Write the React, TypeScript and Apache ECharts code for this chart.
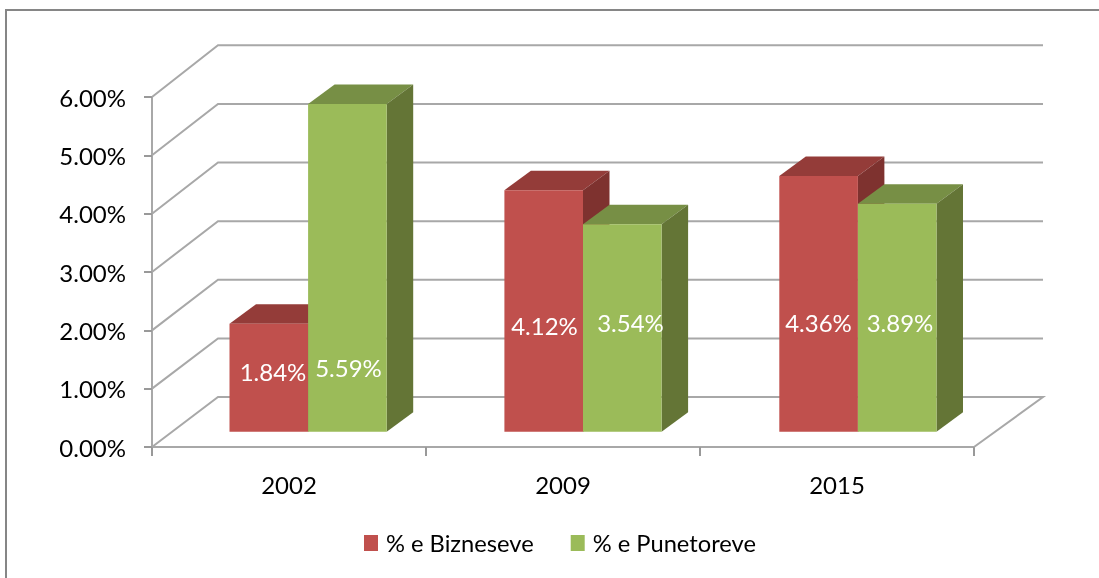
import React, { useEffect, useRef } from "react";
import * as echarts from "echarts";

const years = ["2002", "2009", "2015"];
const bizneseve = [1.84, 4.12, 4.36];
const punetoreve = [5.59, 3.54, 3.89];
const gridLevels = [0, 1, 2, 3, 4, 5, 6];
const seriesNames = ["% e Bizneseve", "% e Punetoreve"];

const FONT = "Lato";
const FONT_SIZE = 24;
const W = 1099;
const H = 578;
const GRID_LEFT = 152;
const GRID_RIGHT = 125;
const GRID_TOP = 97;
const GRID_H = 350;
const WALL_DX = 66;
const WALL_DY = 50;
const WALL_STRETCH = 1.005;
const LINE = "#A8A8A8";

const BAR_W = 78.6;
const BAR_LIFT = 15.3;
const BAR_DX = 26.5;
const BAR_DY = 19.5;

const labelCentersRed = [[273, 371], [544.5, 325], [818.5, 322]];
const labelCentersGreen = [[348.5, 367], [630.5, 322], [900, 322]];

function wallItem(params: any, api: any) {
  const v = api.value(0);
  const sys = params.coordSys;
  const x0 = sys.x;
  const xRight = sys.x + sys.width;
  const y0 = sys.y + sys.height;
  const [, yv] = api.coord([0, v]);
  const backX = x0 + WALL_DX;
  const backRight = xRight + 69;
  const backY = y0 - WALL_DY - (y0 - yv) * WALL_STRETCH;
  const style = { stroke: LINE, lineWidth: 2, fill: "none" };
  const pts = [[x0, yv], [backX, backY], [backRight, backY]];
  if (v === 0) pts.push([xRight, y0]);
  return { type: "polyline", shape: { points: pts }, style };
}

function barItem(side: number, colors: string[], labelPos: number[][]) {
  return (_params: any, api: any) => {
    const idx = api.value(0);
    const v = api.value(1);
    const [cx, y0] = api.coord([idx, 0]);
    const [, yv] = api.coord([idx, v]);
    const mid = cx + 20 + (idx - 1) * 0.9;
    const x1 = side === 0 ? mid - BAR_W : mid;
    const x2 = x1 + BAR_W;
    const yb = y0 - BAR_LIFT;
    const yt = yb - (y0 - yv) * WALL_STRETCH;
    return {
      type: "group",
      children: [
        { type: "polygon", shape: { points: [[x1, yt], [x1 + BAR_DX, yt - BAR_DY], [x2 + BAR_DX, yt - BAR_DY], [x2, yt]] }, style: { fill: colors[1] } },
        { type: "polygon", shape: { points: [[x2, yt], [x2 + BAR_DX, yt - BAR_DY], [x2 + BAR_DX, yb - BAR_DY], [x2, yb]] }, style: { fill: colors[2] } },
        { type: "rect", shape: { x: x1, y: yt, width: BAR_W, height: yb - yt }, style: { fill: colors[0] } },
        {
          type: "text",
          style: {
            x: labelPos[idx][0],
            y: labelPos[idx][1],
            text: v.toFixed(2) + "%",
            fill: "#FFFFFF",
            font: `${FONT_SIZE}px ${FONT}`,
            align: "center",
            verticalAlign: "middle",
          },
        },
      ],
    };
  };
}

export default function App() {
  const ref = useRef<HTMLDivElement>(null);
  useEffect(() => {
    const chart = echarts.init(ref.current!, undefined, { renderer: "svg" });
    chart.setOption({
      animation: false,
      backgroundColor: "#FFFFFF",
      textStyle: { fontFamily: FONT },
      grid: { left: GRID_LEFT, right: GRID_RIGHT, top: GRID_TOP, height: GRID_H },
      legend: {
        left: 359,
        top: 526,
        itemWidth: 14,
        itemHeight: 16,
        itemGap: 37,
        data: seriesNames.map((name, i) => ({ name, icon: "rect", itemStyle: { color: i ? "#9BBB59" : "#C0504D" } })),
        textStyle: { fontFamily: FONT, fontSize: 23.7, color: "#000000", padding: [0, 0, 0, 3] },
      },
      graphic: [
        { type: "rect", shape: { x: 6, y: 10, width: 1200, height: 700 }, style: { fill: "none", stroke: "#868686", lineWidth: 2 }, z: 0 },
      ],
      xAxis: {
        type: "category",
        data: years,
        axisLine: { lineStyle: { color: LINE, width: 2 } },
        axisTick: { show: true, length: 9, lineStyle: { color: "#999999", width: 2 } },
        axisLabel: { color: "#000000", fontSize: FONT_SIZE, fontFamily: FONT, margin: 25 },
        splitLine: { show: false },
      },
      yAxis: {
        type: "value",
        min: 0,
        max: 6,
        interval: 1,
        axisLine: { show: true, lineStyle: { color: LINE, width: 2 } },
        axisTick: { show: true, length: 8, lineStyle: { color: "#999999", width: 2 } },
        axisLabel: { color: "#000000", fontSize: FONT_SIZE, fontFamily: FONT, margin: 26, formatter: (v: number) => v.toFixed(2) + "%" },
        splitLine: { show: false },
      },
      series: [
        {
          type: "custom",
          name: "walls",
          coordinateSystem: "cartesian2d",
          encode: { y: 0 },
          data: gridLevels.map((v) => [v]),
          renderItem: wallItem,
          silent: true,
          z: 1,
        },
        {
          type: "custom",
          name: seriesNames[0],
          encode: { x: 0, y: 1 },
          itemStyle: { color: "#C0504D" },
          data: bizneseve.map((v, i) => [i, v]),
          renderItem: barItem(0, ["#C0504D", "#943C39", "#7E322F"], labelCentersRed),
          z: 2,
        },
        {
          type: "custom",
          name: seriesNames[1],
          encode: { x: 0, y: 1 },
          itemStyle: { color: "#9BBB59" },
          data: punetoreve.map((v, i) => [i, v]),
          renderItem: barItem(1, ["#9BBB59", "#778F45", "#647536"], labelCentersGreen),
          z: 3,
        },
      ],
    });
    return () => chart.dispose();
  }, []);
  return <div ref={ref} style={{ position: "absolute", left: 0, top: 0, width: W, height: H, filter: "blur(0.4px)" }} />;
}
